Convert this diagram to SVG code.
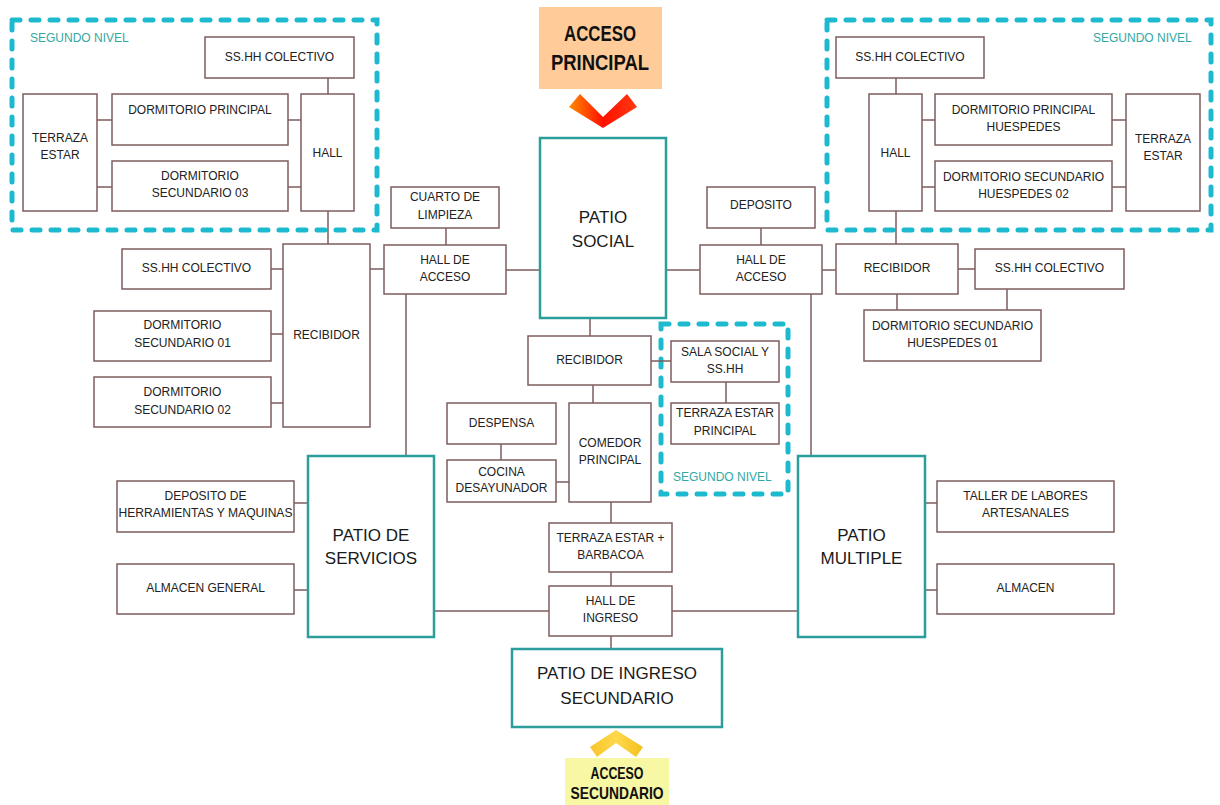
<svg xmlns="http://www.w3.org/2000/svg" width="1220" height="805" viewBox="0 0 1220 805">
<style>
.b{fill:#fff;stroke:#7d5d5d;stroke-width:1.5}
.p{fill:#fff;stroke:#2b9e9b;stroke-width:2.5}
.d{fill:none;stroke:#1cb9cf;stroke-width:5;stroke-dasharray:8 11;stroke-linecap:round}
.c{stroke:#7d5d5d;stroke-width:1.5;fill:none}
text{font-family:"Liberation Sans",Arial,sans-serif;text-anchor:middle}
.t{font-size:12px;fill:#222}
.L{font-size:17px;fill:#1a1a1a}
.n{font-size:12px;fill:#33a8a3;text-anchor:start}
.a{font-weight:bold;fill:#111}
</style>
<defs>
<linearGradient id="rg" x1="0" y1="0" x2="1" y2="0">
<stop offset="0" stop-color="#ff8a00"/><stop offset="0.5" stop-color="#ff1000"/><stop offset="1" stop-color="#ff3a10"/>
</linearGradient>
<linearGradient id="yg" x1="0" y1="0" x2="1" y2="0">
<stop offset="0" stop-color="#f7c52a"/><stop offset="0.5" stop-color="#ffd84a"/><stop offset="1" stop-color="#f2c020"/>
</linearGradient>
</defs>

<g id="zones">
<rect class="d" x="12" y="20" width="365" height="210"/>
<rect class="d" x="827" y="20" width="384" height="210"/>
<rect class="d" x="661" y="324" width="127" height="170"/>
<text class="n" x="30" y="42">SEGUNDO NIVEL</text>
<text class="n" x="1093" y="42">SEGUNDO NIVEL</text>
<text class="n" x="673" y="481">SEGUNDO NIVEL</text>
</g>

<g id="connectors">
<path class="c" d="M328 78V94M97 120H112M97 187H112M288 120H301M288 187H301M328 211V244"/>
<path class="c" d="M271 269H283M271 334H283M271 403H283M370 269H384M446 228V245M506 270H540M406 294V456"/>
<path class="c" d="M666 270H700M761 228V245M822 270H836M811 294V456"/>
<path class="c" d="M896 78V94M922 120H935M922 187H935M1112 120H1126M1112 187H1126M896 211V244M958 269H975M897 294V310M1007 289V310"/>
<path class="c" d="M590 318V336M651 361H671M726 382V403M593 385V403M501 444V460M556 482H569M611 502V523M611 572V586M434 611H549M672 611H798M611 636V649"/>
<path class="c" d="M294 503H308M294 590H308M925 503H937M925 590H937"/>
</g>

<g id="acceso-principal">
<rect x="539" y="7" width="123" height="82" fill="#ffcc99"/>
<text class="a" x="600" y="41" font-size="22" textLength="72" lengthAdjust="spacingAndGlyphs">ACCESO</text>
<text class="a" x="600" y="70" font-size="22" textLength="98" lengthAdjust="spacingAndGlyphs">PRINCIPAL</text>
<polygon points="569,107 580,94 603,117 627,94 637,107 603,128" fill="url(#rg)"/>
</g>

<g id="l-ss1"><rect class="b" x="205" y="37" width="149" height="41"/><text class="t" x="279.5" y="61">SS.HH COLECTIVO</text></g>
<g id="l-dp"><rect class="b" x="112" y="94" width="176" height="51"/><text class="t" x="200" y="114">DORMITORIO PRINCIPAL</text></g>
<g id="l-ds3"><rect class="b" x="112" y="161" width="176" height="50"/><text class="t" x="200" y="180">DORMITORIO</text><text class="t" x="200" y="197">SECUNDARIO 03</text></g>
<g id="l-te"><rect class="b" x="23" y="94" width="74" height="117"/><text class="t" x="60" y="142">TERRAZA</text><text class="t" x="60" y="159">ESTAR</text></g>
<g id="l-hall"><rect class="b" x="301" y="94" width="53" height="117"/><text class="t" x="327.5" y="157">HALL</text></g>

<g id="l-ss2"><rect class="b" x="122" y="249" width="149" height="40"/><text class="t" x="196.5" y="272">SS.HH COLECTIVO</text></g>
<g id="l-ds1"><rect class="b" x="94" y="311" width="177" height="50"/><text class="t" x="182.5" y="329">DORMITORIO</text><text class="t" x="182.5" y="347">SECUNDARIO 01</text></g>
<g id="l-ds2"><rect class="b" x="94" y="377" width="177" height="50"/><text class="t" x="182.5" y="396">DORMITORIO</text><text class="t" x="182.5" y="414">SECUNDARIO 02</text></g>
<g id="l-rec"><rect class="b" x="283" y="244" width="87" height="183"/><text class="t" x="326.5" y="339">RECIBIDOR</text></g>

<g id="l-cl"><rect class="b" x="391" y="187" width="108" height="41"/><text class="t" x="445" y="201">CUARTO DE</text><text class="t" x="445" y="219">LIMPIEZA</text></g>
<g id="l-ha"><rect class="b" x="384" y="245" width="122" height="49"/><text class="t" x="445" y="264">HALL DE</text><text class="t" x="445" y="281">ACCESO</text></g>
<g id="patio-social"><rect class="p" x="540" y="138" width="126" height="180"/><text class="L" x="603" y="223">PATIO</text><text class="L" x="603" y="247">SOCIAL</text></g>
<g id="r-dep"><rect class="b" x="707" y="187" width="108" height="41"/><text class="t" x="761" y="209">DEPOSITO</text></g>
<g id="r-ha"><rect class="b" x="700" y="245" width="122" height="49"/><text class="t" x="761" y="264">HALL DE</text><text class="t" x="761" y="281">ACCESO</text></g>

<g id="r-ss1"><rect class="b" x="836" y="37" width="148" height="41"/><text class="t" x="910" y="61">SS.HH COLECTIVO</text></g>
<g id="r-hall"><rect class="b" x="869" y="94" width="53" height="117"/><text class="t" x="895.5" y="157">HALL</text></g>
<g id="r-dp"><rect class="b" x="935" y="94" width="177" height="51"/><text class="t" x="1023.5" y="114">DORMITORIO PRINCIPAL</text><text class="t" x="1023.5" y="131">HUESPEDES</text></g>
<g id="r-ds2"><rect class="b" x="935" y="161" width="177" height="50"/><text class="t" x="1023.5" y="181">DORMITORIO SECUNDARIO</text><text class="t" x="1023.5" y="198">HUESPEDES 02</text></g>
<g id="r-te"><rect class="b" x="1126" y="94" width="74" height="117"/><text class="t" x="1163" y="143">TERRAZA</text><text class="t" x="1163" y="160">ESTAR</text></g>

<g id="r-rec"><rect class="b" x="836" y="244" width="122" height="50"/><text class="t" x="897" y="272">RECIBIDOR</text></g>
<g id="r-ss2"><rect class="b" x="975" y="249" width="149" height="40"/><text class="t" x="1049.5" y="272">SS.HH COLECTIVO</text></g>
<g id="r-ds1"><rect class="b" x="864" y="310" width="177" height="51"/><text class="t" x="952.5" y="330">DORMITORIO SECUNDARIO</text><text class="t" x="952.5" y="347">HUESPEDES 01</text></g>

<g id="c-rec"><rect class="b" x="528" y="336" width="123" height="49"/><text class="t" x="589.5" y="364">RECIBIDOR</text></g>
<g id="c-sala"><rect class="b" x="671" y="341" width="108" height="41"/><text class="t" x="725" y="356">SALA SOCIAL Y</text><text class="t" x="725" y="373">SS.HH</text></g>
<g id="c-tep"><rect class="b" x="671" y="403" width="108" height="41"/><text class="t" x="725" y="417">TERRAZA ESTAR</text><text class="t" x="725" y="435">PRINCIPAL</text></g>
<g id="c-desp"><rect class="b" x="447" y="403" width="109" height="41"/><text class="t" x="501.5" y="427">DESPENSA</text></g>
<g id="c-coc"><rect class="b" x="447" y="460" width="109" height="42"/><text class="t" x="501.5" y="476">COCINA</text><text class="t" x="501.5" y="492">DESAYUNADOR</text></g>
<g id="c-com"><rect class="b" x="569" y="403" width="82" height="99"/><text class="t" x="610" y="447">COMEDOR</text><text class="t" x="610" y="464">PRINCIPAL</text></g>
<g id="c-terr"><rect class="b" x="549" y="523" width="123" height="49"/><text class="t" x="610.5" y="542">TERRAZA ESTAR +</text><text class="t" x="610.5" y="559">BARBACOA</text></g>
<g id="c-hi"><rect class="b" x="549" y="586" width="123" height="50"/><text class="t" x="610.5" y="605">HALL DE</text><text class="t" x="610.5" y="622">INGRESO</text></g>

<g id="patio-ingreso"><rect class="p" x="512" y="649" width="210" height="78"/><text class="L" x="617" y="679">PATIO DE INGRESO</text><text class="L" x="617" y="704">SECUNDARIO</text></g>

<g id="acceso-secundario">
<polygon points="590,747 616,730 643,747 636,757 616,743 597,757" fill="url(#yg)"/>
<rect x="565" y="758" width="104" height="47" fill="#f7f7a4"/>
<text class="a" x="617" y="779" font-size="17" textLength="53" lengthAdjust="spacingAndGlyphs">ACCESO</text>
<text class="a" x="617" y="799" font-size="17" textLength="93" lengthAdjust="spacingAndGlyphs">SECUNDARIO</text>
</g>

<g id="b-dep"><rect class="b" x="117" y="481" width="177" height="51"/><text class="t" x="205.5" y="500">DEPOSITO DE</text><text class="t" x="205.5" y="517" textLength="174" lengthAdjust="spacingAndGlyphs">HERRAMIENTAS Y MAQUINAS</text></g>
<g id="b-alm"><rect class="b" x="117" y="564" width="177" height="50"/><text class="t" x="205.5" y="592">ALMACEN GENERAL</text></g>
<g id="patio-servicios"><rect class="p" x="308" y="456" width="126" height="181"/><text class="L" x="371" y="541">PATIO DE</text><text class="L" x="371" y="564">SERVICIOS</text></g>
<g id="patio-multiple"><rect class="p" x="798" y="456" width="127" height="181"/><text class="L" x="861.5" y="541">PATIO</text><text class="L" x="861.5" y="564">MULTIPLE</text></g>
<g id="b-tal"><rect class="b" x="937" y="481" width="177" height="51"/><text class="t" x="1025.5" y="500">TALLER DE LABORES</text><text class="t" x="1025.5" y="517">ARTESANALES</text></g>
<g id="b-alm2"><rect class="b" x="937" y="564" width="177" height="50"/><text class="t" x="1025.5" y="592">ALMACEN</text></g>
</svg>
